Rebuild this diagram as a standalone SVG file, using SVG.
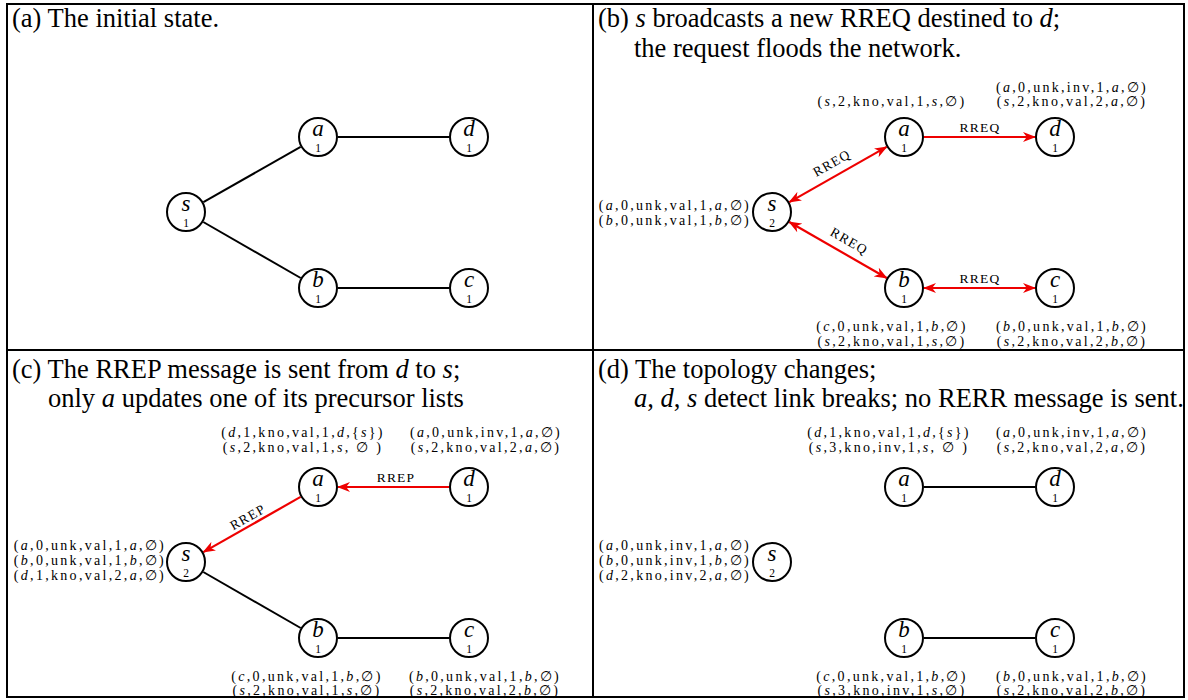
<svg xmlns="http://www.w3.org/2000/svg" width="1188" height="700" viewBox="0 0 1188 700">
<style>
.frame{fill:none;stroke:#000;stroke-width:2}
.title{font-family:'Liberation Serif','Times New Roman',Times,serif;font-size:26.5px;fill:#000}
.i{font-style:italic}
.node circle{fill:#fff;stroke:#000;stroke-width:2}
.nl{font-family:'Liberation Serif','Times New Roman',serif;font-style:italic;font-size:23px;text-anchor:middle;fill:#000}
.ns{font-family:'Liberation Serif','Times New Roman',serif;font-size:11.5px;text-anchor:middle;fill:#000}
.blk{stroke:#000;stroke-width:2;fill:none}
.red{stroke:#e00;stroke-width:2.2;fill:none}
.lab{font-family:'Liberation Serif','Times New Roman',serif;font-size:13.5px;text-anchor:middle;fill:#000;letter-spacing:1.2px}
.tup{font-family:'Liberation Serif','Times New Roman',serif;font-size:14px;fill:#000;letter-spacing:2.3px}
.m{text-anchor:middle}
.e{text-anchor:end}
</style>
<defs>
<marker id="ah" viewBox="0 0 13 10" refX="12" refY="5" markerWidth="13" markerHeight="10" markerUnits="userSpaceOnUse" orient="auto-start-reverse">
<path d="M0,0 L13,5 L0,10 L3.8,5 Z" fill="#e00"/>
</marker>
</defs>
<rect width="1188" height="700" fill="#fff"/>
<g id="frame">
<rect class="frame" x="7" y="4" width="1177" height="693"/>
<line class="frame" x1="593" y1="4" x2="593" y2="697"/>
<line class="frame" x1="7" y1="350" x2="1184" y2="350"/>
</g>
<g id="titles">
<text class="title" x="12" y="27">(a) The initial state.</text>
<text class="title" x="598" y="27">(b) <tspan class="i">s</tspan> broadcasts a new RREQ destined to <tspan class="i">d</tspan>;</text>
<text class="title" x="634" y="57">the request floods the network.</text>
<text class="title" x="12" y="378">(c) The RREP message is sent from <tspan class="i">d</tspan> to <tspan class="i">s</tspan>;</text>
<text class="title" x="48" y="407">only <tspan class="i">a</tspan> updates one of its precursor lists</text>
<text class="title" x="598" y="378">(d) The topology changes;</text>
<text class="title" x="634" y="407"><tspan class="i">a</tspan>, <tspan class="i">d</tspan>, <tspan class="i">s</tspan> detect link breaks; no RERR message is sent.</text>
</g>
<g id="connectors">
<line class="blk" x1="203.4" y1="202.1" x2="300.6" y2="146.9"/>
<line class="blk" x1="203.3" y1="222" x2="300.7" y2="278"/>
<line class="blk" x1="338" y1="137" x2="449" y2="137"/>
<line class="blk" x1="338" y1="288" x2="449" y2="288"/>
<line class="red" x1="789.4" y1="202.1" x2="886.6" y2="146.9" marker-start="url(#ah)" marker-end="url(#ah)"/>
<line class="red" x1="789.3" y1="222" x2="886.7" y2="278" marker-start="url(#ah)" marker-end="url(#ah)"/>
<line class="red" x1="924" y1="137" x2="1035" y2="137" marker-end="url(#ah)"/>
<line class="red" x1="924" y1="288" x2="1035" y2="288" marker-start="url(#ah)" marker-end="url(#ah)"/>
<text class="lab" x="980" y="132">RREQ</text>
<text class="lab" x="980" y="283">RREQ</text>
<text class="lab" transform="translate(834,167) rotate(-29.6)">RREQ</text>
<text class="lab" transform="translate(847,245) rotate(29.9)">RREQ</text>
<line class="red" x1="449" y1="487" x2="338" y2="487" marker-end="url(#ah)"/>
<line class="red" x1="300.6" y1="496.9" x2="203.4" y2="552.1" marker-end="url(#ah)"/>
<line class="blk" x1="203.3" y1="572" x2="300.7" y2="628"/>
<line class="blk" x1="338" y1="638" x2="449" y2="638"/>
<text class="lab" x="396" y="482">RREP</text>
<text class="lab" transform="translate(250,521) rotate(-29.6)">RREP</text>
<line class="blk" x1="924" y1="487" x2="1035" y2="487"/>
<line class="blk" x1="924" y1="638" x2="1035" y2="638"/>
</g>
<g id="a_s" class="node"><circle cx="186" cy="212" r="19"/><text class="nl" x="186" y="211">s</text><text class="ns" x="186" y="227">1</text></g>
<g id="a_a" class="node"><circle cx="318" cy="137" r="19"/><text class="nl" x="318" y="136">a</text><text class="ns" x="318" y="152">1</text></g>
<g id="a_d" class="node"><circle cx="469" cy="137" r="19"/><text class="nl" x="469" y="136">d</text><text class="ns" x="469" y="152">1</text></g>
<g id="a_b" class="node"><circle cx="318" cy="288" r="19"/><text class="nl" x="318" y="287">b</text><text class="ns" x="318" y="303">1</text></g>
<g id="a_c" class="node"><circle cx="469" cy="288" r="19"/><text class="nl" x="469" y="287">c</text><text class="ns" x="469" y="303">1</text></g>
<g id="b_s" class="node"><circle cx="772" cy="212" r="19"/><text class="nl" x="772" y="211">s</text><text class="ns" x="772" y="227">2</text></g>
<g id="b_a" class="node"><circle cx="904" cy="137" r="19"/><text class="nl" x="904" y="136">a</text><text class="ns" x="904" y="152">1</text></g>
<g id="b_d" class="node"><circle cx="1055" cy="137" r="19"/><text class="nl" x="1055" y="136">d</text><text class="ns" x="1055" y="152">1</text></g>
<g id="b_b" class="node"><circle cx="904" cy="288" r="19"/><text class="nl" x="904" y="287">b</text><text class="ns" x="904" y="303">1</text></g>
<g id="b_c" class="node"><circle cx="1055" cy="288" r="19"/><text class="nl" x="1055" y="287">c</text><text class="ns" x="1055" y="303">1</text></g>
<g id="c_s" class="node"><circle cx="186" cy="562" r="19"/><text class="nl" x="186" y="561">s</text><text class="ns" x="186" y="577">2</text></g>
<g id="c_a" class="node"><circle cx="318" cy="487" r="19"/><text class="nl" x="318" y="486">a</text><text class="ns" x="318" y="502">1</text></g>
<g id="c_d" class="node"><circle cx="469" cy="487" r="19"/><text class="nl" x="469" y="486">d</text><text class="ns" x="469" y="502">1</text></g>
<g id="c_b" class="node"><circle cx="318" cy="638" r="19"/><text class="nl" x="318" y="637">b</text><text class="ns" x="318" y="653">1</text></g>
<g id="c_c" class="node"><circle cx="469" cy="638" r="19"/><text class="nl" x="469" y="637">c</text><text class="ns" x="469" y="653">1</text></g>
<g id="d_s" class="node"><circle cx="772" cy="562" r="19"/><text class="nl" x="772" y="561">s</text><text class="ns" x="772" y="577">2</text></g>
<g id="d_a" class="node"><circle cx="904" cy="487" r="19"/><text class="nl" x="904" y="486">a</text><text class="ns" x="904" y="502">1</text></g>
<g id="d_d" class="node"><circle cx="1055" cy="487" r="19"/><text class="nl" x="1055" y="486">d</text><text class="ns" x="1055" y="502">1</text></g>
<g id="d_b" class="node"><circle cx="904" cy="638" r="19"/><text class="nl" x="904" y="637">b</text><text class="ns" x="904" y="653">1</text></g>
<g id="d_c" class="node"><circle cx="1055" cy="638" r="19"/><text class="nl" x="1055" y="637">c</text><text class="ns" x="1055" y="653">1</text></g>
<g id="tables">
<text class="tup m" x="892" y="106">(<tspan class="i">s</tspan>,2,kno,val,1,<tspan class="i">s</tspan>,∅)</text>
<text class="tup m" x="1072" y="92">(<tspan class="i">a</tspan>,0,unk,inv,1,<tspan class="i">a</tspan>,∅)</text>
<text class="tup m" x="1072" y="106">(<tspan class="i">s</tspan>,2,kno,val,2,<tspan class="i">a</tspan>,∅)</text>
<text class="tup e" x="751" y="210">(<tspan class="i">a</tspan>,0,unk,val,1,<tspan class="i">a</tspan>,∅)</text>
<text class="tup e" x="751" y="225">(<tspan class="i">b</tspan>,0,unk,val,1,<tspan class="i">b</tspan>,∅)</text>
<text class="tup m" x="892" y="331">(<tspan class="i">c</tspan>,0,unk,val,1,<tspan class="i">b</tspan>,∅)</text>
<text class="tup m" x="892" y="346">(<tspan class="i">s</tspan>,2,kno,val,1,<tspan class="i">s</tspan>,∅)</text>
<text class="tup m" x="1072" y="331">(<tspan class="i">b</tspan>,0,unk,val,1,<tspan class="i">b</tspan>,∅)</text>
<text class="tup m" x="1072" y="346">(<tspan class="i">s</tspan>,2,kno,val,2,<tspan class="i">b</tspan>,∅)</text>
<text class="tup m" x="303" y="437">(<tspan class="i">d</tspan>,1,kno,val,1,<tspan class="i">d</tspan>,{<tspan class="i">s</tspan>})</text>
<text class="tup m" x="303" y="452">(<tspan class="i">s</tspan>,2,kno,val,1,<tspan class="i">s</tspan>, ∅ )</text>
<text class="tup m" x="486" y="437">(<tspan class="i">a</tspan>,0,unk,inv,1,<tspan class="i">a</tspan>,∅)</text>
<text class="tup m" x="486" y="452">(<tspan class="i">s</tspan>,2,kno,val,2,<tspan class="i">a</tspan>,∅)</text>
<text class="tup e" x="166" y="550">(<tspan class="i">a</tspan>,0,unk,val,1,<tspan class="i">a</tspan>,∅)</text>
<text class="tup e" x="166" y="565">(<tspan class="i">b</tspan>,0,unk,val,1,<tspan class="i">b</tspan>,∅)</text>
<text class="tup e" x="166" y="580">(<tspan class="i">d</tspan>,1,kno,val,2,<tspan class="i">a</tspan>,∅)</text>
<text class="tup m" x="307" y="681">(<tspan class="i">c</tspan>,0,unk,val,1,<tspan class="i">b</tspan>,∅)</text>
<text class="tup m" x="307" y="695">(<tspan class="i">s</tspan>,2,kno,val,1,<tspan class="i">s</tspan>,∅)</text>
<text class="tup m" x="485" y="681">(<tspan class="i">b</tspan>,0,unk,val,1,<tspan class="i">b</tspan>,∅)</text>
<text class="tup m" x="485" y="695">(<tspan class="i">s</tspan>,2,kno,val,2,<tspan class="i">b</tspan>,∅)</text>
<text class="tup m" x="889" y="437">(<tspan class="i">d</tspan>,1,kno,val,1,<tspan class="i">d</tspan>,{<tspan class="i">s</tspan>})</text>
<text class="tup m" x="889" y="452">(<tspan class="i">s</tspan>,3,kno,inv,1,<tspan class="i">s</tspan>, ∅ )</text>
<text class="tup m" x="1072" y="437">(<tspan class="i">a</tspan>,0,unk,inv,1,<tspan class="i">a</tspan>,∅)</text>
<text class="tup m" x="1072" y="452">(<tspan class="i">s</tspan>,2,kno,val,2,<tspan class="i">a</tspan>,∅)</text>
<text class="tup e" x="751" y="550">(<tspan class="i">a</tspan>,0,unk,inv,1,<tspan class="i">a</tspan>,∅)</text>
<text class="tup e" x="751" y="565">(<tspan class="i">b</tspan>,0,unk,inv,1,<tspan class="i">b</tspan>,∅)</text>
<text class="tup e" x="751" y="580">(<tspan class="i">d</tspan>,2,kno,inv,2,<tspan class="i">a</tspan>,∅)</text>
<text class="tup m" x="892" y="681">(<tspan class="i">c</tspan>,0,unk,val,1,<tspan class="i">b</tspan>,∅)</text>
<text class="tup m" x="892" y="695">(<tspan class="i">s</tspan>,3,kno,inv,1,<tspan class="i">s</tspan>,∅)</text>
<text class="tup m" x="1072" y="681">(<tspan class="i">b</tspan>,0,unk,val,1,<tspan class="i">b</tspan>,∅)</text>
<text class="tup m" x="1072" y="695">(<tspan class="i">s</tspan>,2,kno,val,2,<tspan class="i">b</tspan>,∅)</text>
</g>
</svg>
